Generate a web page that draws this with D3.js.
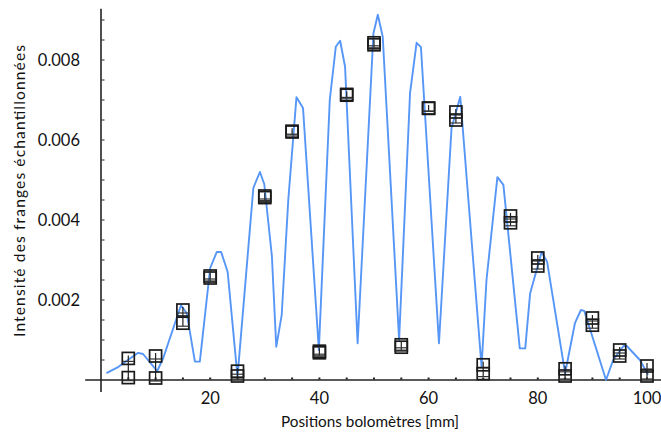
<!DOCTYPE html>
<html><head><meta charset="utf-8">
<script src="https://cdn.jsdelivr.net/npm/d3@7/dist/d3.min.js"></script>
<style>body{margin:0;background:#fff}svg{display:block}</style>
</head><body>
<svg id="chart" width="661" height="436"></svg>
<script>
// ---- data ----
const courbeX = [1.0, 3.2, 6.8, 7.7, 10.3, 11.4, 14.65, 15.7, 17.2, 18.1, 20.0, 21.2, 22.0, 23.2, 25.0,
  27.9, 29.1, 29.9, 31.3, 32.1, 33.1, 34.3, 35.8, 37.0, 39.9, 41.9, 43.0, 43.8, 44.7, 47.0,
  49.9, 50.7, 51.6, 54.6, 56.6, 57.8, 58.6, 61.9, 64.2, 65.8, 69.7, 70.6, 72.6, 73.7, 76.7,
  77.7, 78.6, 80.7, 81.7, 85.0, 86.8, 87.9, 88.5, 92.5, 93.8, 95.7, 96.3, 98.7, 100.2];
const courbeY = [0.00017, 0.00033, 0.00068, 0.00065, 0.00022, 0.00055, 0.00187, 0.00167, 0.00046, 0.00046,
  0.0028, 0.0032, 0.0032, 0.0027, 0.00008, 0.0048, 0.0052, 0.0049, 0.0031, 0.00083,
  0.00163, 0.0045, 0.00707, 0.0068, 0.00075, 0.0070, 0.00833, 0.00848, 0.00783, 0.00092,
  0.00867, 0.00913, 0.00858, 0.0010, 0.00717, 0.00843, 0.00832, 0.00092, 0.0063, 0.00708,
  0.00033, 0.0025, 0.00507, 0.00488, 0.00079, 0.00079, 0.00217, 0.0032, 0.00296, 0.00017,
  0.00142, 0.00175, 0.00173, 0.0, 0.0005, 0.00085, 0.00085, 0.0005, 0.00013];

const positions = [5, 10, 15, 20, 25, 30, 35, 40, 45, 50, 55, 60, 65, 70, 75, 80, 85, 90, 95, 100];
const mesureHaute = [0.00054, 0.0006, 0.00175, 0.0026, 0.00022, 0.0046, 0.00622, 0.00072, 0.00714, 0.00843,
  0.00088, 0.0068, 0.0067, 0.00038, 0.0041, 0.00305, 0.00028, 0.00155, 0.00075, 0.00035];
const mesureBasse = [0.00006, 0.00005, 0.00142, 0.00255, 0.0001, 0.00456, 0.0062, 0.00068, 0.00712, 0.00838,
  0.00082, 0.00679, 0.0065, 0.00016, 0.00393, 0.00285, 0.0001, 0.00137, 0.0006, 0.0001];

const xTicks = [20, 40, 60, 80, 100];
const yTicks = [0.002, 0.004, 0.006, 0.008];
const xMinorTicks = d3.range(5, 101, 5);
const yMinorTicks = d3.range(1, 19).map(i => i * 0.0005);

const xTitle = "Positions bolomètres [mm]";
const yTitle = "Intensité des franges échantillonnées";

// ---- chart ----
const svg = d3.select("#chart");
const font = "Lato, 'Open Sans', sans-serif";
const x = d3.scaleLinear().domain([0, 100]).range([101, 647]);
const y = d3.scaleLinear().domain([0, 0.009]).range([380, 20]);
const axisColor = "#222";

// axis lines
svg.append("line").attr("x1", x(0)).attr("x2", x(0)).attr("y1", y(0.00928)).attr("y2", y(-0.0003))
  .attr("stroke", axisColor).attr("stroke-width", 1.6);
svg.append("line").attr("x1", x(-2.9)).attr("x2", 661).attr("y1", y(0)).attr("y2", y(0))
  .attr("stroke", axisColor).attr("stroke-width", 1.6);

// y minor ticks (inward)
svg.append("g").selectAll("line").data(yMinorTicks).join("line")
  .attr("x1", x(0)).attr("x2", x(0) + 3.5)
  .attr("y1", d => y(d)).attr("y2", d => y(d))
  .attr("stroke", "#444").attr("stroke-width", 1.2);

// x minor ticks (small dots)
svg.append("g").selectAll("rect").data(xMinorTicks).join("rect")
  .attr("x", d => x(d) - 1).attr("y", y(0) - 2.5).attr("width", 2).attr("height", 2)
  .attr("fill", "#222");

// y tick labels
svg.append("g").selectAll("text").data(yTicks).join("text")
  .attr("x", 80).attr("y", d => y(d)).attr("dy", "0.35em")
  .attr("text-anchor", "end").attr("font-family", font).attr("font-size", 16.5).attr("fill", "#111")
  .text(d => d3.format(".3f")(d));

// x tick labels
svg.append("g").selectAll("text").data(xTicks).join("text")
  .attr("x", d => x(d)).attr("y", 398).attr("dy", "0.35em")
  .attr("text-anchor", "middle").attr("font-family", font).attr("font-size", 16.5).attr("fill", "#111")
  .text(d => d);

// titles
svg.append("text").attr("x", 370).attr("y", 422).attr("dy", "0.35em").attr("text-anchor", "middle")
  .attr("font-family", font).attr("font-size", 15.3).attr("fill", "#111").text(xTitle);
svg.append("text").attr("transform", "translate(20,191) rotate(-90)").attr("dy", "0.35em")
  .attr("text-anchor", "middle").attr("font-family", font).attr("font-size", 15.5)
  .attr("textLength", 292).attr("lengthAdjust", "spacing")
  .attr("fill", "#111").text(yTitle);

// blue curve
const courbe = courbeX.map((d, i) => [d, courbeY[i]]);
svg.append("path").datum(courbe)
  .attr("d", d3.line().x(d => x(d[0])).y(d => y(d[1])))
  .attr("fill", "none").attr("stroke", "#4d90f5").attr("stroke-width", 1.9)
  .attr("stroke-linejoin", "round").attr("opacity", 0.95);

// markers
const mesures = positions.map((p, i) => ({p, hi: mesureHaute[i], lo: mesureBasse[i]}));
const mg = svg.append("g");
const half = 6;
mesures.forEach(m => {
  // error bar
  mg.append("line").attr("x1", x(m.p)).attr("x2", x(m.p))
    .attr("y1", y(m.hi) - 3).attr("y2", y(m.lo) + 3)
    .attr("stroke", "#222").attr("stroke-width", 1.2);
  [m.hi, m.lo].forEach(v => {
    mg.append("rect").attr("x", x(m.p) - half).attr("y", y(v) - half)
      .attr("width", 2 * half).attr("height", 2 * half)
      .attr("fill", "none").attr("stroke", "#1a1a1a").attr("stroke-width", 1.7);
    mg.append("line").attr("x1", x(m.p) - half).attr("x2", x(m.p) + half)
      .attr("y1", y(v) + 3).attr("y2", y(v) + 3)
      .attr("stroke", "#333").attr("stroke-width", 1.2);
  });
});
</script>
</body></html>
